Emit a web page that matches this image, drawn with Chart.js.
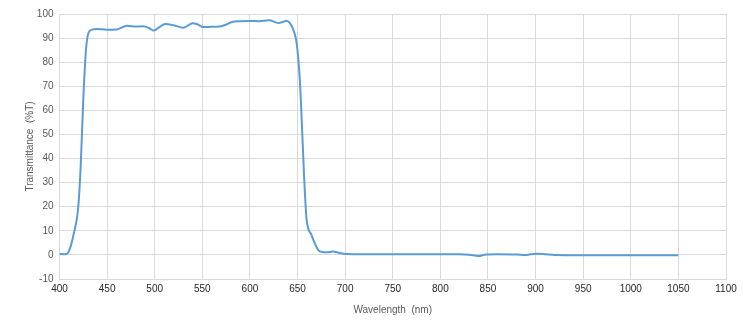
<!DOCTYPE html>
<html>
<head>
<meta charset="utf-8">
<script src="https://cdn.jsdelivr.net/npm/chart.js@4/dist/chart.umd.min.js"></script>
<style>
  html, body { margin: 0; padding: 0; background: #fff; }
  #wrap { width: 743px; height: 320px; position: relative; }
</style>
</head>
<body>
<div id="wrap"><canvas id="c"></canvas></div>
<script>
// --- data ---
const wavelength = [400, 404, 407.5, 411, 415, 419.7, 422.2, 425, 427.8, 430.3, 434, 439, 450, 460, 471, 480, 488, 494, 499, 505, 511, 520, 530, 540, 545, 551, 560, 568, 575, 581, 590, 600, 610, 620, 630, 635, 638, 642, 646, 649, 652.4, 654.8, 657, 659.4, 664.6, 671.6, 676, 681, 687, 692, 701, 720, 760, 800, 820, 830, 840, 848, 860, 880, 890, 900, 910, 920, 950, 1000, 1050];
const transmittance = [0.4, 0.3, 0.4, 2.7, 8.9, 19.9, 36.3, 64.6, 85, 92, 93.5, 93.8, 93.5, 93.6, 95.1, 94.8, 94.9, 94.2, 93.1, 94.6, 95.8, 95.3, 94.3, 96.2, 95.7, 94.6, 94.7, 94.8, 95.6, 96.7, 97, 97.1, 97, 97.4, 96.3, 96.8, 97.2, 96.2, 93, 88, 72.8, 52, 31.7, 15.2, 8.3, 2.1, 1.2, 1.1, 1.4, 1.0, 0.4, 0.3, 0.3, 0.3, 0.3, 0.1, -0.5, 0.2, 0.3, 0.2, 0, 0.5, 0.3, 0, -0.1, -0.1, -0.1];

const xMin = 400, xMax = 1100, xStep = 50;
const yMin = -10, yMax = 100, yStep = 10;

const points = wavelength.map((w, i) => ({ x: w, y: transmittance[i] }));

const tickColor = "#595959";
const gridColor = "#d9d9d9";
const font = { family: "'Liberation Sans', Arial, sans-serif", size: 10 };

new Chart(document.getElementById("c"), {
  type: "scatter",
  data: {
    datasets: [{
      data: points,
      showLine: true,
      borderColor: "#5b9bd5",
      borderWidth: 2,
      pointRadius: 0,
      cubicInterpolationMode: "monotone",
      fill: false,
    }],
  },
  options: {
    responsive: true,
    maintainAspectRatio: false,
    animation: false,
    layout: { padding: { top: 14, right: 17, bottom: 4, left: 24 } },
    plugins: { legend: { display: false }, tooltip: { enabled: false } },
    scales: {
      x: {
        type: "linear",
        min: xMin, max: xMax,
        ticks: { stepSize: xStep, color: "#262626", font, padding: 4, maxRotation: 0, callback: (v) => String(v) },
        grid: { color: gridColor, drawTicks: false },
        border: { color: gridColor },
        title: { display: true, text: "Wavelength  (nm)", color: tickColor, font, padding: { top: 4, bottom: 0 } },
        afterFit: (s) => { s.height = 37; },
      },
      y: {
        min: yMin, max: yMax,
        ticks: { stepSize: yStep, color: tickColor, font, padding: 6, callback: (v) => String(v) },
        grid: { color: gridColor, drawTicks: false },
        border: { color: gridColor },
        title: { display: true, text: "Transmittance  (%T)", color: tickColor, font, padding: { top: 0, bottom: 0 } },
        afterFit: (s) => { s.width = 35.5; },
      },
    },
  },
});
</script>
</body>
</html>
